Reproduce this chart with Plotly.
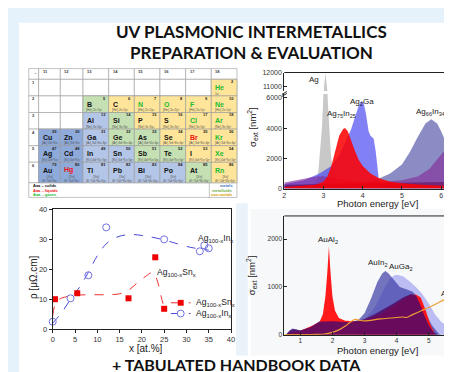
import plotly.graph_objects as go

W, H = 452, 372

# ---------------- data ----------------
# Top-right: UV extinction cross-sections (eV, nm^2)
ag_E = [2.60, 2.80, 2.87, 2.92, 2.96, 2.995, 3.00, 3.015, 3.05, 3.085, 3.10, 3.105, 3.14, 3.19, 3.25, 3.40, 3.60]
ag_S = [100, 400, 1200, 2500, 4000, 6000, 10600, 11000, 12000, 11000, 10600, 6000, 4000, 2200, 1000, 300, 100]

ag2ga_E = [2.0, 2.5, 2.9, 3.2, 3.4, 3.55, 3.7, 3.8, 3.9, 3.97, 4.02, 4.08, 4.15, 4.2, 4.28, 4.33, 4.38, 4.42, 4.5, 5.0, 6.38]
ag2ga_S = [300, 550, 1000, 1500, 2200, 3000, 3900, 4700, 5500, 5800, 5700, 5000, 3800, 3500, 3300, 2500, 1200, 400, 250, 150, 100]

ag75_E = [2.0, 2.8, 3.0, 3.1, 3.2, 3.3, 3.4, 3.5, 3.55, 3.62, 3.7, 3.8, 3.9, 4.0, 4.2, 4.4, 4.7, 5.0, 5.5, 6.0, 6.38]
ag75_S = [100, 250, 450, 800, 1500, 2600, 3500, 3950, 4000, 3800, 3200, 2500, 1900, 1500, 1000, 700, 450, 350, 250, 200, 150]

ag66_E = [2.0, 3.0, 4.0, 4.4, 4.7, 5.0, 5.2, 5.4, 5.6, 5.75, 5.9, 6.0, 6.1, 6.2, 6.3, 6.38]
ag66_S = [200, 300, 400, 650, 1000, 1600, 2400, 3400, 4300, 4580, 4300, 3800, 3200, 2600, 2000, 1700]

in_E = [2.0, 2.4, 2.8, 3.0, 3.3, 3.6, 4.0, 4.5, 5.0, 5.4, 5.7, 5.9, 6.05, 6.2, 6.3, 6.38]
in_S = [400, 600, 800, 820, 700, 550, 450, 450, 550, 800, 1300, 1900, 2400, 2750, 2800, 2780]

agin_E = [2.0, 3.0, 4.0, 5.0, 6.0, 6.38]
agin_S = [250, 300, 350, 400, 450, 450]

# Bottom-right: Au intermetallics
aual2_E = [0.6, 1.0, 1.4, 1.6, 1.7, 1.78, 1.84, 1.89, 1.94, 2.0, 2.08, 2.2, 2.4, 2.7, 3.0, 3.5, 4.0, 4.4, 4.6, 4.75, 4.9, 5.05, 5.2]
aual2_S = [30, 80, 200, 270, 420, 800, 1300, 1850, 1300, 800, 500, 350, 290, 280, 300, 430, 650, 820, 840, 780, 520, 220, 0]

auin2_E = [0.55, 0.65, 0.75, 0.85, 1.0, 1.3, 1.6, 2.0, 2.5, 2.8, 3.0, 3.2, 3.4, 3.55, 3.65, 3.75, 3.9, 4.1, 4.3, 4.5, 4.7, 4.9, 5.1, 5.3, 5.4]
auin2_S = [0, 80, 130, 110, 90, 150, 280, 290, 260, 300, 450, 750, 1100, 1280, 1330, 1280, 1150, 1000, 950, 900, 750, 450, 200, 30, 0]

auga2_E = [2.8, 3.0, 3.3, 3.6, 3.8, 3.95, 4.05, 4.2, 4.4, 4.6, 4.8, 5.0, 5.2, 5.4, 5.6, 5.85]
auga2_S = [250, 320, 550, 950, 1180, 1250, 1250, 1220, 1120, 1000, 850, 650, 420, 260, 180, 130]

aub_E = [0.55, 0.7, 0.8, 1.0, 1.3, 1.6, 2.0, 2.5, 2.8, 3.0, 3.3, 3.6, 3.9, 4.2, 4.45, 4.6, 4.72, 4.85, 5.0, 5.15, 5.3]
aub_S = [0, 100, 120, 90, 150, 270, 280, 260, 290, 330, 420, 530, 650, 780, 850, 820, 650, 420, 200, 50, 0]

au_E = [0.5, 1.0, 1.5, 1.8, 2.0, 2.2, 2.4, 2.55, 2.7, 2.85, 3.0, 3.5, 4.0, 4.2, 4.3, 4.5, 4.8, 5.0, 5.3, 5.6, 5.85]
au_S = [0, 0, 5, 20, 50, 100, 180, 260, 320, 300, 290, 330, 360, 370, 360, 420, 510, 570, 670, 780, 900]

# Bottom-left: resistivity (x at.%, rho uOhm.cm)
sn_x = [0.5, 5.5, 17, 23, 25]
sn_y = [10, 12, 10.3, 24, 6.8]
inr_x = [0, 4, 8, 12, 25, 33, 34, 35]
inr_y = [2.5, 10.3, 18, 34, 30, 26, 28, 27]
sn_fit_x = [0, 0.5, 1.5, 3, 5, 8, 12, 15, 17, 19, 21, 22.5, 23.5, 24.3, 25]
sn_fit_y = [4.5, 8, 10, 10.8, 11.3, 11.5, 11.5, 11.8, 13, 15.5, 17.8, 19, 16, 11, 7]
in_fit_x = [0, 2, 4, 6, 8, 10, 12, 14, 16, 18, 20, 22, 25, 28, 31, 33, 35]
in_fit_y = [2, 5.5, 10, 14, 19, 24.5, 28.5, 30.5, 31.4, 31.6, 31.3, 30.8, 29.8, 28.5, 27.3, 26.8, 26.4]

# Periodic table (groups 11-18, periods 1-6)
pt_symbol = ["He", "B", "C", "N", "O", "F", "Ne", "Al", "Si", "P", "S", "Cl", "Ar",
             "Cu", "Zn", "Ga", "Ge", "As", "Se", "Br", "Kr",
             "Ag", "Cd", "In", "Sn", "Sb", "Te", "I", "Xe",
             "Au", "Hg", "Tl", "Pb", "Bi", "Po", "At", "Rn"]
pt_number = [2, 5, 6, 7, 8, 9, 10, 13, 14, 15, 16, 17, 18,
             29, 30, 31, 32, 33, 34, 35, 36,
             47, 48, 49, 50, 51, 52, 53, 54,
             79, 80, 81, 82, 83, 84, 85, 86]
pt_group = [18, 13, 14, 15, 16, 17, 18, 13, 14, 15, 16, 17, 18,
            11, 12, 13, 14, 15, 16, 17, 18,
            11, 12, 13, 14, 15, 16, 17, 18,
            11, 12, 13, 14, 15, 16, 17, 18]
pt_period = [1] + [2] * 6 + [3] * 6 + [4] * 8 + [5] * 8 + [6] * 8
pt_kind = ["n", "m", "n", "n", "n", "n", "n", "l", "m", "n", "n", "n", "n",
           "d", "d", "l", "m", "m", "n", "n", "n",
           "d", "d", "l", "l", "m", "m", "n", "n",
           "d", "d", "l", "l", "l", "l", "m", "n"]
pt_state = ["g", "s", "s", "g", "g", "g", "g", "s", "s", "s", "s", "g", "g",
            "s", "s", "s", "s", "s", "s", "l", "g",
            "s", "s", "s", "s", "s", "s", "s", "g",
            "s", "l", "s", "s", "s", "s", "s", "g"]
pt_config = ["1s²", "[He] 2s²2p¹", "[He] 2s²2p²", "[He] 2s²2p³", "[He] 2s²2p⁴", "[He] 2s²2p⁵", "[He] 2s²2p⁶",
             "[Ne] 3s²3p¹", "[Ne] 3s²3p²", "[Ne] 3s²3p³", "[Ne] 3s²3p⁴", "[Ne] 3s²3p⁵", "[Ne] 3s²3p⁶",
             "[Ar] 3d¹⁰4s¹", "[Ar] 3d¹⁰4s²", "[Ar] 3d¹⁰4s²4p¹", "[Ar] 3d¹⁰4s²4p²", "[Ar] 3d¹⁰4s²4p³", "[Ar] 3d¹⁰4s²4p⁴", "[Ar] 3d¹⁰4s²4p⁵", "[Ar] 3d¹⁰4s²4p⁶",
             "[Kr] 4d¹⁰5s¹", "[Kr] 4d¹⁰5s²", "[Kr] 4d¹⁰5s²5p¹", "[Kr] 4d¹⁰5s²5p²", "[Kr] 4d¹⁰5s²5p³", "[Kr] 4d¹⁰5s²5p⁴", "[Kr] 4d¹⁰5s²5p⁵", "[Kr] 4d¹⁰5s²5p⁶",
             "[Xe]<br>4f¹⁴5d¹⁰6s¹", "[Xe]<br>4f¹⁴5d¹⁰6s²", "[Xe]<br>4f¹⁴5d¹⁰6s²6p¹", "[Xe]<br>4f¹⁴5d¹⁰6s²6p²", "[Xe]<br>4f¹⁴5d¹⁰6s²6p³",
             "[Xe]<br>4f¹⁴5d¹⁰6s²6p⁴", "[Xe]<br>4f¹⁴5d¹⁰6s²6p⁵", "[Xe]<br>4f¹⁴5d¹⁰6s²6p⁶"]
pt_groups = [11, 12, 13, 14, 15, 16, 17, 18]
pt_periods = [1, 2, 3, 4, 5, 6]

# ---------------- helpers ----------------
def px(x):
    return x / W

def py(y):
    return 1 - y / H

FONT = "Liberation Sans, Arial, sans-serif"
TITLE_FONT = "Lato, Open Sans, sans-serif"

fig = go.Figure()

# ---- top-right spectra (broken y axis: y lower, y2 upper) ----
top_series = [
    (ag_E, ag_S, "Ag", "rgb(200,200,200)"),
    (ag66_E, ag66_S, "Ag66In34", "rgba(95,95,175,0.72)"),
    (ag2ga_E, ag2ga_S, "Ag2Ga", "rgba(70,70,240,0.68)"),
    (in_E, in_S, "In", "rgba(130,40,150,0.6)"),
    (agin_E, agin_S, "AgIn", "rgba(90,0,70,0.5)"),
    (ag75_E, ag75_S, "Ag75In25", "rgba(255,0,0,0.86)"),
]
for E, S, name, col in top_series:
    for ya in ("y", "y2"):
        fig.add_trace(go.Scatter(x=E, y=S, mode="lines", fill="tozeroy", fillcolor=col,
                                 line=dict(width=0, color=col), name=name, showlegend=False,
                                 xaxis="x", yaxis=ya, hoverinfo="skip"))

# ---- bottom-right spectra ----
bot_series = [
    (auga2_E, auga2_S, "AuGa2", "rgba(130,130,235,0.5)"),
    (auin2_E, auin2_S, "AuIn2", "rgba(60,60,165,0.7)"),
    (aual2_E, aual2_S, "AuAl2", "rgba(255,15,15,0.95)"),
    (aub_E, aub_S, "AuAl2 band", "rgba(80,10,105,0.85)"),
]
for E, S, name, col in bot_series:
    fig.add_trace(go.Scatter(x=E, y=S, mode="lines", fill="tozeroy", fillcolor=col,
                             line=dict(width=0, color=col), name=name, showlegend=False,
                             xaxis="x2", yaxis="y3", hoverinfo="skip"))
fig.add_trace(go.Scatter(x=au_E, y=au_S, mode="lines", line=dict(color="#f0a030", width=1.2, shape="spline"),
                         name="Au", showlegend=False, xaxis="x2", yaxis="y3"))

# ---- bottom-left resistivity ----
fig.add_trace(go.Scatter(x=sn_fit_x, y=sn_fit_y, mode="lines", line=dict(color="#ee3030", width=1, dash="dash", shape="spline"),
                         showlegend=False, xaxis="x3", yaxis="y4"))
fig.add_trace(go.Scatter(x=in_fit_x, y=in_fit_y, mode="lines", line=dict(color="#4a4ad8", width=1, dash="dash", shape="spline"),
                         showlegend=False, xaxis="x3", yaxis="y4"))
fig.add_trace(go.Scatter(x=sn_x, y=sn_y, mode="markers", marker=dict(symbol="square", size=6, color="#ee0000"),
                         showlegend=False, xaxis="x3", yaxis="y4", cliponaxis=False))
fig.add_trace(go.Scatter(x=inr_x, y=inr_y, mode="markers",
                         marker=dict(symbol="circle-open", size=7, color="#7070e0", line=dict(width=1)),
                         showlegend=False, xaxis="x3", yaxis="y4", cliponaxis=False))

def ax(size=7, ticks="inside"):
    return dict(showgrid=False, zeroline=False, showline=True, linecolor="#222", linewidth=1,
                ticks=ticks, ticklen=3, tickcolor="#222", tickformat="d",
                tickfont=dict(family=FONT, size=size, color="#333"))

fig.update_layout(
    width=W, height=H, autosize=False,
    margin=dict(l=0, r=0, t=0, b=0),
    paper_bgcolor="#e6f2fb", plot_bgcolor="rgba(0,0,0,0)",
    showlegend=False,
    xaxis=dict(domain=[px(278), 1], range=[2, 6.38], anchor="y", tickvals=[2, 3, 4, 5, 6], **ax(7)),
    yaxis=dict(domain=[py(181), py(84)], range=[0, 6258], anchor="x", tickvals=[0, 2000, 4000, 6000], **ax(7)),
    yaxis2=dict(domain=[py(81), py(62)], range=[10643, 12000], anchor="x", tickvals=[11000, 12000], **ax(7)),
    xaxis2=dict(domain=[px(278), 1], range=[0.5, 5.85], anchor="y3", tickvals=[1, 2, 3, 4, 5], **ax(6.5)),
    yaxis3=dict(domain=[py(330.7), py(209)], range=[0, 2484], anchor="x2", tickvals=[0, 1000, 2000], **ax(6.5)),
    xaxis3=dict(domain=[px(43.3), px(224)], range=[0, 40], anchor="y4", dtick=5, mirror=True, **ax(7.5, "outside")),
    yaxis4=dict(domain=[py(325), py(202.3)], range=[0, 40], anchor="x3", dtick=10, mirror=True, **ax(7.5, "outside")),
)

shapes = []
ann = []

# background panels
shapes.append(dict(type="rect", xref="paper", yref="paper", x0=px(9), x1=1, y0=0, y1=py(11),
                   fillcolor="white", line=dict(width=0), layer="below"))
shapes.append(dict(type="rect", xref="paper", yref="paper", x0=px(229), x1=px(241), y0=py(352), y1=py(196),
                   fillcolor="#eaf3fa", line=dict(width=0), layer="below"))
shapes.append(dict(type="rect", xref="paper", yref="paper", x0=px(244), x1=1, y0=py(352), y1=py(202),
                   fillcolor="#f7f8f9", line=dict(width=0), layer="below"))

# top frame lines of the spectra
shapes.append(dict(type="line", xref="paper", yref="paper", x0=px(278), x1=1, y0=py(62), y1=py(62),
                   line=dict(color="#222", width=1)))
shapes.append(dict(type="line", xref="paper", yref="paper", x0=px(278), x1=1, y0=py(209), y1=py(209),
                   line=dict(color="#222", width=1)))
# axis break mark
shapes.append(dict(type="line", xref="paper", yref="paper", x0=px(275.5), x1=px(280.5), y0=py(84.5), y1=py(81.5),
                   line=dict(color="#222", width=1)))
shapes.append(dict(type="line", xref="paper", yref="paper", x0=px(275.5), x1=px(280.5), y0=py(86.5), y1=py(83.5),
                   line=dict(color="#222", width=1)))

# Titles
ann.append(dict(text="<b>UV PLASMONIC INTERMETALLICS</b>", x=px(245), y=py(20), xref="paper", yref="paper",
                showarrow=False, font=dict(family=TITLE_FONT, size=17, color="#111"), xanchor="center", yanchor="middle"))
ann.append(dict(text="<b>PREPARATION &amp; EVALUATION</b>", x=px(245), y=py(42), xref="paper", yref="paper",
                showarrow=False, font=dict(family=TITLE_FONT, size=17, color="#111"), xanchor="center", yanchor="middle"))
ann.append(dict(text="<b>+ TABULATED HANDBOOK DATA</b>", x=px(230), y=py(372), xref="paper", yref="paper",
                showarrow=False, font=dict(family=TITLE_FONT, size=16, color="#111"), xanchor="center", yanchor="bottom",
                borderpad=0))

# spectra labels (data coordinates)
lab_font = dict(family=FONT, size=8, color="#222")
top_labels = [("Ag", 2.76, 11500, "y2"), ("Ag<sub>2</sub>Ga", 3.97, 5750, "y"),
              ("Ag<sub>75</sub>In<sub>25</sub>", 3.45, 4950, "y"), ("Ag<sub>66</sub>In<sub>34</sub>", 5.74, 5050, "y")]
for t, xv, yv, ya in top_labels:
    ann.append(dict(text=t, x=xv, y=yv, xref="x", yref=ya, showarrow=False, font=lab_font,
                    xanchor="center", yanchor="middle"))
ann.append(dict(text="In", x=6.26, y=3480, xref="x", yref="y", showarrow=False, font=lab_font,
                xanchor="left", yanchor="middle"))
bot_labels = [("AuAl<sub>2</sub>", 1.87, 1990), ("AuIn<sub>2</sub>", 3.43, 1510),
              ("AuGa<sub>2</sub>", 4.15, 1410), ("Au", 5.53, 870)]
for t, xv, yv in bot_labels:
    ann.append(dict(text=t, x=xv, y=yv, xref="x2", yref="y3", showarrow=False, font=lab_font,
                    xanchor="center", yanchor="middle"))

# axis titles
ttl_font = dict(family=FONT, size=9.5, color="#222")
ann.append(dict(text="Photon energy [eV]", x=px(372), y=py(196), xref="paper", yref="paper", showarrow=False,
                font=ttl_font, xanchor="center", yanchor="middle"))
ann.append(dict(text="Photon energy [eV]", x=px(372), y=py(347), xref="paper", yref="paper", showarrow=False,
                font=ttl_font, xanchor="center", yanchor="middle"))
ann.append(dict(text="σ<sub>ext</sub> [nm<sup>2</sup>]", x=px(245), y=py(118), xref="paper", yref="paper",
                showarrow=False, font=ttl_font, textangle=-90, xanchor="center", yanchor="middle"))
ann.append(dict(text="σ<sub>ext</sub> [nm<sup>2</sup>]", x=px(245), y=py(270), xref="paper", yref="paper",
                showarrow=False, font=ttl_font, textangle=-90, xanchor="center", yanchor="middle"))
ann.append(dict(text="x [at.%]", x=px(138), y=py(345), xref="paper", yref="paper", showarrow=False,
                font=dict(family=FONT, size=10, color="#222"), xanchor="center", yanchor="middle"))
ann.append(dict(text="ρ [μΩ.cm]", x=px(24), y=py(272), xref="paper", yref="paper", showarrow=False,
                font=dict(family=FONT, size=10, color="#222"), textangle=-90, xanchor="center", yanchor="middle"))

# resistivity labels and legend
ann.append(dict(text="Ag<sub>100-x</sub>In<sub>x</sub>", x=32.2, y=30.4, xref="x3", yref="y4", showarrow=False,
                font=dict(family=FONT, size=8.5, color="#222"), xanchor="left", yanchor="middle"))
ann.append(dict(text="Ag<sub>100-x</sub>Sn<sub>x</sub>", x=23.0, y=19.0, xref="x3", yref="y4", showarrow=False,
                font=dict(family=FONT, size=8.5, color="#222"), xanchor="left", yanchor="middle"))
for yy, col, sym, lab in [(298, "#ee3030", "sq", "Ag<sub>100-x</sub>Sn<sub>x</sub>"),
                          (309, "#4a4ad8", "ci", "Ag<sub>100-x</sub>In<sub>x</sub>")]:
    shapes.append(dict(type="line", xref="paper", yref="paper", x0=px(163), x1=px(183), y0=py(yy), y1=py(yy),
                       line=dict(color=col, width=1, dash="dash")))
    if sym == "sq":
        shapes.append(dict(type="rect", xref="paper", yref="paper", x0=px(170), x1=px(176), y0=py(yy + 3), y1=py(yy - 3),
                           fillcolor="#ee0000", line=dict(width=0)))
    else:
        shapes.append(dict(type="circle", xref="paper", yref="paper", x0=px(169.5), x1=px(176.5), y0=py(yy + 3.5), y1=py(yy - 3.5),
                           fillcolor="white", line=dict(color="#7070e0", width=1)))
    ann.append(dict(text=lab, x=px(186), y=py(yy), xref="paper", yref="paper", showarrow=False,
                    font=dict(family=FONT, size=8.5, color="#222"), xanchor="left", yanchor="middle"))

# ---- periodic table ----
col_edges = [19, 29, 51, 74, 100, 126, 152, 178, 204, 230]
row_edges = [58, 69, 86, 103, 120, 137, 154, 175, 190]
kind_color = {"d": "#8eaadb", "l": "#b4c6e7", "m": "#c5e0b3", "n": "#ffe599"}
state_color = {"s": "#111111", "l": "#ee1111", "g": "#22bb33"}
grid = dict(color="#9a9a9a", width=0.6)

for r in range(len(row_edges) - 2):
    for c in range(len(col_edges) - 1):
        shapes.append(dict(type="rect", xref="paper", yref="paper",
                           x0=px(col_edges[c]), x1=px(col_edges[c + 1]),
                           y0=py(row_edges[r + 1]), y1=py(row_edges[r]),
                           fillcolor="white", line=grid))
shapes.append(dict(type="rect", xref="paper", yref="paper", x0=px(col_edges[0]), x1=px(col_edges[-1]),
                   y0=py(row_edges[-1]), y1=py(row_edges[-2]), fillcolor="white", line=grid))
shapes.append(dict(type="line", xref="paper", yref="paper", x0=px(202), x1=px(202),
                   y0=py(row_edges[-1]), y1=py(row_edges[-2]), line=grid))

for s, n, g, p, k, st, cfg in zip(pt_symbol, pt_number, pt_group, pt_period, pt_kind, pt_state, pt_config):
    c = pt_groups.index(g) + 1
    r = pt_periods.index(p) + 1
    x0, x1 = col_edges[c], col_edges[c + 1]
    y0, y1 = row_edges[r], row_edges[r + 1]
    shapes.append(dict(type="rect", xref="paper", yref="paper", x0=px(x0), x1=px(x1), y0=py(y1), y1=py(y0),
                       fillcolor=kind_color[k], line=grid))
    ann.append(dict(text="<b>%s</b>" % s, x=px(x0 + 2), y=py(y0 + 8.5 if p < 6 else y0 + 8), xref="paper", yref="paper",
                    showarrow=False, font=dict(family=FONT, size=7, color=state_color[st]),
                    xanchor="left", yanchor="middle"))
    ann.append(dict(text="<b>%d</b>" % n, x=px(x1 - 1), y=py(y0 + 2.5), xref="paper", yref="paper",
                    showarrow=False, font=dict(family=FONT, size=4, color="#222"),
                    xanchor="right", yanchor="middle"))
    ann.append(dict(text=cfg, x=px(x0 + 1.5), y=py(y1 - 2.4 if p < 6 else y1 - 4), xref="paper", yref="paper",
                    showarrow=False, font=dict(family=FONT, size=3.3, color="#555"),
                    xanchor="left", yanchor="middle"))

for i, g in enumerate(pt_groups):
    ann.append(dict(text="<b>%d</b>" % g, x=px(col_edges[i + 1] + 2), y=py(row_edges[0] + 3), xref="paper", yref="paper",
                    showarrow=False, font=dict(family=FONT, size=4, color="#333"), xanchor="left", yanchor="middle"))
for i, p in enumerate(pt_periods):
    ann.append(dict(text="<b>%d</b>" % p, x=px(col_edges[0] + 1.5), y=py(row_edges[i + 1] + 3), xref="paper", yref="paper",
                    showarrow=False, font=dict(family=FONT, size=4, color="#333"), xanchor="left", yanchor="middle"))
ann.append(dict(text="→", x=px(col_edges[0] + 2), y=py(row_edges[0] + 4), xref="paper", yref="paper",
                showarrow=False, font=dict(family=FONT, size=4, color="#555"), xanchor="left", yanchor="middle"))

for i, (t, col) in enumerate([("Aaa – solids", "#111"), ("Aaa – liquids", "#ee1111"), ("Aaa – gases", "#22bb33")]):
    ann.append(dict(text="<b>%s</b>" % t, x=px(21), y=py(177.5 + 5 * i), xref="paper", yref="paper", showarrow=False,
                    font=dict(family=FONT, size=4, color=col), xanchor="left", yanchor="middle"))
for i, (t, col) in enumerate([("metals", "#4472c4"), ("metalloids", "#70ad47"), ("non-metals", "#d4a000")]):
    ann.append(dict(text="<b>%s</b>" % t, x=px(228.5), y=py(177.5 + 5 * i), xref="paper", yref="paper", showarrow=False,
                    font=dict(family=FONT, size=4, color=col), xanchor="right", yanchor="middle"))

fig.update_layout(shapes=shapes, annotations=ann)
fig.write_html("out.html")
